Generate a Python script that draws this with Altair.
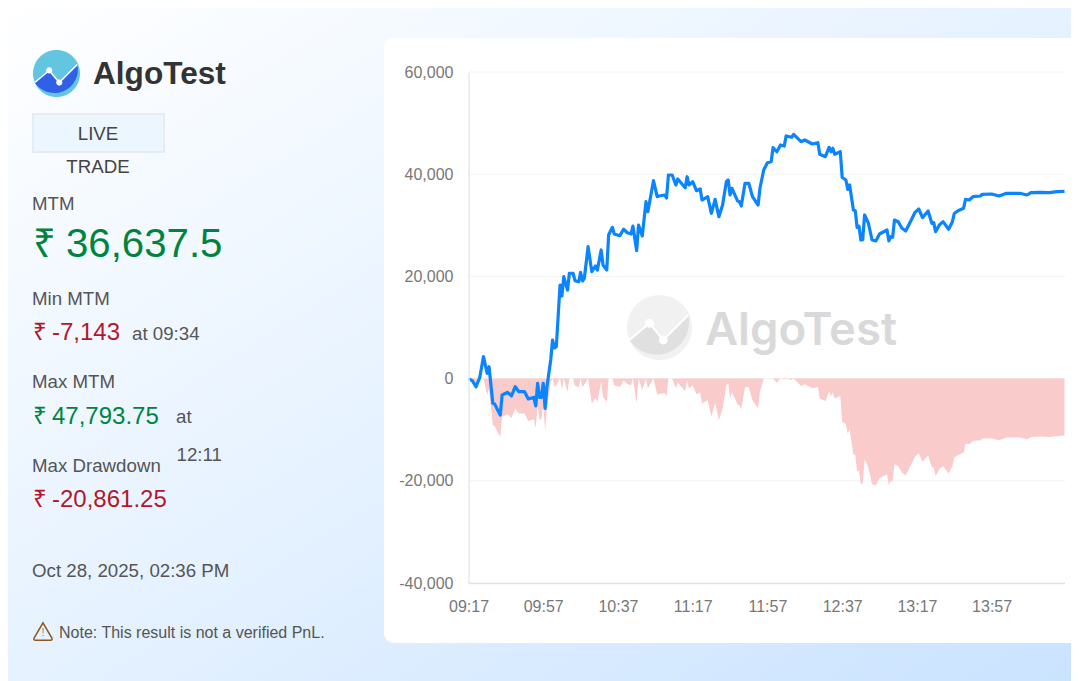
import altair as alt
import pandas as pd

minutes = [0,2,4,6,8,10,11,13,14,17,18,21,23,25,27,30,32,35,36,37,38,39,40,41,42,44,45,46,47,49,50,51,53,54,56,57,59,60,61,62,64,66,68,69,71,72,74,75,77,78,81,83,85,87,88,90,91,93,95,96,99,101,102,105,106,107,109,111,112,116,117,118,120,122,124,125,128,130,132,134,136,138,139,140,141,144,145,146,148,150,152,155,156,158,160,162,163,165,167,169,170,173,174,178,180,184,187,188,191,193,194,195,196,199,200,202,203,204,206,207,208,209,210,211,212,214,216,218,220,224,225,226,227,228,230,232,234,237,239,241,243,246,248,249,250,252,254,257,259,260,262,265,266,268,270,274,275,280,284,288,291,295,299,301,306,311,315,319]
mtm = [0,-400,-1600,180,4290,1040,2330,-4830,-4970,-7143,-3210,-2680,-3400,-1585,-2560,-2560,-3990,-3660,-5360,-920,-3660,-3660,-920,-5810,-1585,3640,7550,5990,6240,18320,16160,19940,17340,20610,20610,19160,18960,20800,19100,19630,25810,20920,22040,21250,25170,22230,21250,28100,29610,28300,27970,29220,28550,28300,29860,25030,30060,27910,34620,32660,38730,35600,35730,35930,35340,39840,39840,37890,39060,37360,39510,37890,38530,36770,37100,34950,35600,32350,35090,31680,33970,38530,38870,35930,37240,34760,34620,33780,38220,38220,35600,33970,37240,40820,42250,42450,45190,44400,45720,45520,47480,47220,47794,46360,46690,45910,46160,43900,43430,45260,44400,45070,43900,44400,39360,38870,37010,37890,33000,32860,29570,29810,27120,27200,32020,30450,27120,26933,28300,29080,26950,27770,27650,31040,30710,29410,28890,31040,32540,33190,31490,32800,30390,30510,28750,30060,30710,29220,30710,32310,32860,33330,35090,34950,35600,35730,36070,36130,35730,36260,36260,36260,35930,36380,36460,36380,36580,36638]
drawdown = [0,-400,-1600,0,0,-3250,-1960,-9120,-9260,-11433,-7500,-6970,-7690,-5875,-6850,-6850,-8280,-7950,-9650,-5210,-7950,-7950,-5210,-10100,-5875,-650,0,-1560,-1310,0,-2160,0,-2600,0,0,-1450,-1650,0,-1700,-1170,0,-4890,-3770,-4560,-640,-3580,-4560,0,0,-1310,-1640,-390,-1060,-1310,0,-4830,0,-2150,0,-1960,0,-3130,-3000,-2800,-3390,0,0,-1950,-780,-2480,-330,-1950,-1310,-3070,-2740,-4890,-4240,-7490,-4750,-8160,-5870,-1310,-970,-3910,-2600,-5080,-5220,-6060,-1620,-1620,-4240,-5870,-2600,0,0,0,0,-790,0,-200,0,-260,0,-1434,-1104,-1884,-1634,-3894,-4364,-2534,-3394,-2724,-3894,-3394,-8434,-8924,-10784,-9904,-14794,-14934,-18224,-17984,-20674,-20594,-15774,-17344,-20674,-20861,-19494,-18714,-20844,-20024,-20144,-16754,-17084,-18384,-18904,-16754,-15254,-14604,-16304,-14994,-17404,-17284,-19044,-17734,-17084,-18574,-17084,-15484,-14934,-14464,-12704,-12844,-12194,-12064,-11724,-11664,-12064,-11534,-11534,-11534,-11864,-11414,-11334,-11414,-11214,-11156]

y_ticks = [-40000,-20000,0,20000,40000,60000]
x_ticks = [0,40,80,120,160,200,240,280]
x_labels = ["09:17","09:57","10:37","11:17","11:57","12:37","13:17","13:57"]

W, H = 1063, 673
FONT = "Liberation Sans"
GREEN, RED, GREY, DARK = "#00843d", "#b2182b", "#555555", "#444444"

df = pd.DataFrame({"m": minutes, "mtm": mtm, "dd": drawdown})
xs = alt.Scale(domain=[0, 319], range=[460.5, 1056.5], nice=False, zero=False)
ys = alt.Scale(domain=[-40000, 60000], range=[575, 64], nice=False, zero=False)
one = alt.Data(values=[{"a": 1}])

def box(x, y, x2, y2, **kw):
    return alt.Chart(one).mark_rect(**kw).encode(
        x=alt.value(x - 8), x2=alt.value(x2 - 8), y=alt.value(y - 8), y2=alt.value(y2 - 8))

def txt(s, x, y, size, color, weight="normal", align="left", font=FONT):
    return alt.Chart(alt.Data(values=[{"t": s}])).mark_text(
        align=align, baseline="middle", fontSize=size, color=color, fontWeight=weight, font=font
    ).encode(text="t:N", x=alt.value(x - 8), y=alt.value(y - 8))

def sym(path, x, y, size, color, filled=True, sw=0):
    return alt.Chart(one).mark_point(
        shape=path, size=size, filled=filled, color=color, opacity=1, strokeWidth=sw
    ).encode(x=alt.value(x - 8), y=alt.value(y - 8))

def logo(cx, cy, r, light, dark, dot):
    d = (2 * r) ** 2
    lower = "M0.886 -0.385 A1 1 0 0 1 -0.923 0.385 L-0.31 -0.13 L0.117 0.385 Z"
    lw = "M-0.923 0.385 L-0.31 -0.13 L0.117 0.385 L0.886 -0.385"
    circle = "M-1 0 A1 1 0 1 1 1 0 A1 1 0 1 1 -1 0 Z"
    return [
        sym(circle, cx, cy, d, light),
        sym(lower, cx, cy, d, dark),
        sym(lw, cx, cy, d, "#ffffff", filled=False, sw=r / 16),
        sym(circle, cx - 0.31 * r, cy - 0.13 * r, dot, "#ffffff"),
        sym(circle, cx + 0.117 * r, cy + 0.385 * r, dot, "#ffffff"),
    ]

bg = box(0, 0, W + 8, H + 8, fill={
    "gradient": "linear", "x1": 0, "y1": 0, "x2": 1, "y2": 1,
    "stops": [{"offset": 0, "color": "#ffffff"}, {"offset": 0.5, "color": "#e6f2ff"}, {"offset": 1, "color": "#cae3ff"}]})
card = box(384, 38, W + 30, 643, fill="#ffffff", cornerRadius=10)
badge = box(33, 114, 164, 152, fill="#ecf6ff", stroke="#e6ecf3", strokeWidth=2)

BODY = 18.7
left = [
    txt("AlgoTest", 93, 74.5, 31.6, "#333333", "bold"),
    txt("LIVE", 98, 133.5, BODY, DARK, align="center"),
    txt("TRADE", 98, 166.5, BODY, DARK, align="center"),
    txt("MTM", 32, 204, BODY, GREY),
    txt("₹", 32.5, 244.5, 40, GREEN),
    txt("36,637.5", 66, 244.5, 40.2, GREEN),
    txt("Min MTM", 32, 299, BODY, GREY),
    txt("₹", 32.5, 333, 24, RED),
    txt("-7,143", 52, 333, 24, RED),
    txt("at 09:34", 132, 334, BODY, GREY),
    txt("Max MTM", 32, 381.5, BODY, GREY),
    txt("₹", 32.5, 417, 24, GREEN),
    txt("47,793.75", 52, 417, 24, GREEN),
    txt("at", 176, 417, BODY, GREY),
    txt("12:11", 176.5, 455, BODY, GREY),
    txt("Max Drawdown", 32, 465.5, BODY, GREY),
    txt("₹", 32.5, 500, 24, RED),
    txt("-20,861.25", 52, 500, 24, RED),
    txt("Oct 28, 2025, 02:36 PM", 32, 570.5, BODY, GREY),
    txt("Note: This result is not a verified PnL.", 59, 632.5, 16, GREY),
    sym("M0 -0.92 L0.95 0.72 Q1 0.92 0.8 0.92 L-0.8 0.92 Q-1 0.92 -0.95 0.72 Z", 43, 631.5, 361, "#8a5a20", filled=False, sw=1.5),
    txt("!", 43, 633, 11, "#888888", align="center"),
]

label_expr = "[" + ",".join(f"'{s}'" for s in x_labels) + "][datum.value/40]"
y_label_expr = "replace(format(datum.value, ','), '\u2212', '-')"
x_axis = alt.Axis(
    values=x_ticks, labelExpr=label_expr, orient="bottom", offset=575 - H, grid=False, ticks=False, zindex=1,
    domainColor="#e2e2e2", domainWidth=1.5, labelFont=FONT, labelFontSize=16, labelColor="#777777",
    labelPadding=15, labelFlush=False, labelOverlap=False, labelAngle=0, title=None)
y_axis = alt.Axis(
    values=y_ticks, labelExpr=y_label_expr, orient="left", offset=-460.5, grid=False, ticks=False, zindex=1,
    domainColor="#e8e8e8", domainWidth=1.5, labelFont=FONT, labelFontSize=16, labelColor="#777777",
    labelPadding=15.5, labelFlush=False, labelOverlap=False, title=None)

grid = alt.Chart(pd.DataFrame({"v": y_ticks})).mark_rule(color="#f2f2f2", strokeWidth=1).encode(
    y=alt.Y("v:Q", scale=ys, axis=y_axis), x=alt.value(461), x2=alt.value(1057))

area = alt.Chart(df).mark_area(color="#f9cbcb", opacity=1, interpolate="linear").encode(
    x=alt.X("m:Q", scale=xs, axis=x_axis),
    y=alt.Y("dd:Q", scale=ys, axis=y_axis),
    y2=alt.Y2(datum=0))

line = alt.Chart(df).mark_line(color="#0a84ff", strokeWidth=3.2, interpolate="linear", strokeJoin="round").encode(
    x=alt.X("m:Q", scale=xs, axis=x_axis),
    y=alt.Y("mtm:Q", scale=ys, axis=y_axis))

layers = [bg, card, badge] + left + logo(56.5, 73.5, 23.5, "#63c6e0", "#3060e8", 38) \
    + logo(659.5, 327.5, 32.5, "#f1f1f1", "#e0e0e0", 80) \
    + [txt("AlgoTest", 705, 331, 45.5, "#d9d9d9", 600, font="Inter"), grid, area, line]

chart = alt.layer(*layers).resolve_scale(x="shared", y="shared").properties(
    width=W, height=H, padding=0,
    autosize=alt.AutoSizeParams(type="none"),
    background="transparent",
).configure_view(stroke=None)

chart.save("out.html", embed_options={"renderer": "svg", "actions": False})
